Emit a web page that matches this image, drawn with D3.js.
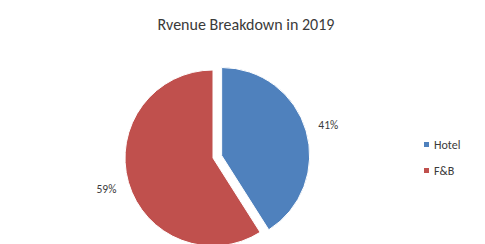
<!DOCTYPE html>
<html>
<head>
<meta charset="utf-8">
<script src="https://cdnjs.cloudflare.com/ajax/libs/d3/7.8.5/d3.min.js"></script>
<style>
  body { margin: 0; background: #fff; }
  svg { display: block; font-family: Carlito, Lato, "Open Sans", sans-serif; }
</style>
</head>
<body>
<script>
var categories = ["Hotel", "F&B"]
var shares = [41, 59]
var colours = ["#4F81BD", "#C0504D"]
var explode = [9, 0]

var width = 485, height = 244
var cx = 213, cy = 158, radius = 88, labelRadius = 111

var svg = d3.select("body").append("svg")
	.attr("width", width)
	.attr("height", height)

svg.append("text")
	.attr("x", 246)
	.attr("y", 30)
	.attr("text-anchor", "middle")
	.attr("font-size", 16)
	.attr("fill", "#3a3a3a")
	.text("Rvenue Breakdown in 2019")

var pie = d3.pie().sort(null).value(function(d) { return d })
var arcs = pie(shares)
var arc = d3.arc().innerRadius(0).outerRadius(radius)
var labelArc = d3.arc().innerRadius(labelRadius).outerRadius(labelRadius)

var g = svg.append("g").attr("transform", "translate(" + cx + "," + cy + ")")

// each slice pushed out along its middle angle
var slice = g.selectAll("g.slice").data(arcs).enter().append("g")
	.attr("class", "slice")
	.attr("transform", function(d, i) {
		var a = (d.startAngle + d.endAngle) / 2
		return "translate(" + (Math.sin(a) * explode[i]) + "," + (-Math.cos(a) * explode[i]) + ")"
	})

slice.append("path")
	.attr("d", arc)
	.attr("fill", function(d, i) { return colours[i] })
	.attr("stroke", "#fff")
	.attr("stroke-width", 1)

slice.append("text")
	.attr("transform", function(d) { return "translate(" + labelArc.centroid(d) + ")" })
	.attr("text-anchor", "middle")
	.attr("dy", "0.35em")
	.attr("font-size", 11.5)
	.attr("fill", "#3a3a3a")
	.text(function(d) { return d.data + "%" })

var legend = svg.append("g").attr("transform", "translate(424,145)")
var item = legend.selectAll("g").data(categories).enter().append("g")
	.attr("transform", function(d, i) { return "translate(0," + (i * 26) + ")" })

item.append("rect")
	.attr("x", 0).attr("y", -3)
	.attr("width", 5).attr("height", 5)
	.attr("fill", function(d, i) { return colours[i] })

item.append("text")
	.attr("x", 10)
	.attr("y", 0)
	.attr("dy", "0.35em")
	.attr("font-size", 12)
	.attr("fill", "#3a3a3a")
	.text(function(d) { return d })
</script>
</body>
</html>
